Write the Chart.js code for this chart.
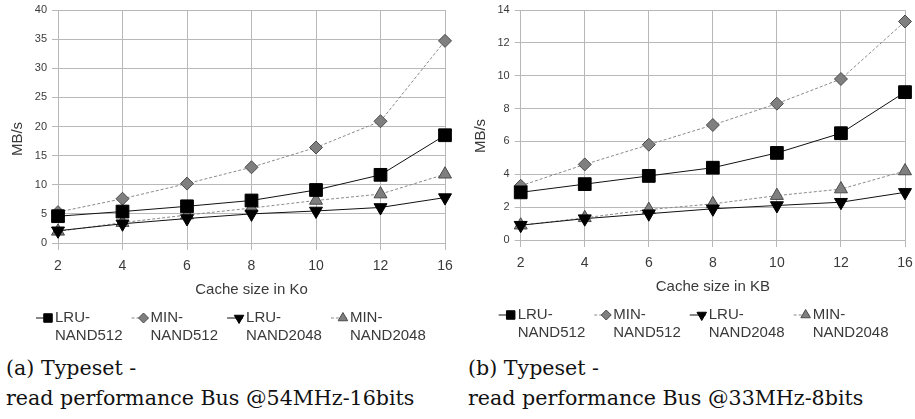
<!DOCTYPE html>
<html>
<head>
<meta charset="utf-8">
<script src="https://cdn.jsdelivr.net/npm/chart.js@4.4.1/dist/chart.umd.min.js"></script>
<style>
  body { margin: 0; background: #fff; width: 915px; height: 419px; overflow: hidden; position: relative; }
  .box { position: absolute; top: 0; width: 457px; height: 350px; }
  #boxA { left: 0; }
  #boxB { left: 458px; }
  .cap { position: absolute; top: 353px; font-family: "DejaVu Serif", serif; font-size: 20.6px; line-height: 30px; color: #111; white-space: nowrap; }
  #capA { left: 6px; }
  #capB { left: 468px; }
</style>
</head>
<body>
<div class="box" id="boxA"><canvas id="chartA"></canvas></div>
<div class="box" id="boxB"><canvas id="chartB"></canvas></div>
<div class="cap" id="capA">(a) Typeset -<br>read performance Bus @54MHz-16bits</div>
<div class="cap" id="capB">(b) Typeset -<br>read performance Bus @33MHz-8bits</div>

<script>
// données
const cacheSizes = ['2', '4', '6', '8', '10', '12', '16'];
const seriesNames = ['LRU-NAND512', 'MIN-NAND512', 'LRU-NAND2048', 'MIN-NAND2048'];

// (a) bus 54MHz 16 bits
const lru512A  = [4.6, 5.4, 6.3, 7.3, 9.1, 11.7, 18.5];
const min512A  = [5.3, 7.6, 10.2, 13.0, 16.4, 20.9, 34.7];
const lru2048A = [2.1, 3.3, 4.2, 5.0, 5.5, 6.1, 7.8];
const min2048A = [2.0, 3.5, 4.8, 6.0, 7.3, 8.4, 11.8];

// (b) bus 33MHz 8 bits
const lru512B  = [2.9, 3.4, 3.9, 4.4, 5.3, 6.5, 9.0];
const min512B  = [3.3, 4.6, 5.8, 7.0, 8.3, 9.8, 13.3];
const lru2048B = [0.9, 1.3, 1.6, 1.9, 2.1, 2.3, 2.9];
const min2048B = [0.9, 1.35, 1.85, 2.2, 2.7, 3.1, 4.2];

// style de chaque série (même ordre que seriesNames)
const seriesStyle = [
    { pointStyle: 'rect',     radius: 9,   rotation: 0,   fill: '#000',    border: '#000',    line: '#111',    dash: [],     legendRadius: 6 },
    { pointStyle: 'rectRot',  radius: 6.5, rotation: 0,   fill: '#7f7f7f', border: '#4a4a4a', line: '#8a8a8a', dash: [3, 2], legendRadius: 5 },
    { pointStyle: 'triangle', radius: 7.5, rotation: 180, fill: '#000',    border: '#000',    line: '#111',    dash: [],     legendRadius: 5.5 },
    { pointStyle: 'triangle', radius: 7.5, rotation: 0,   fill: '#7f7f7f', border: '#4a4a4a', line: '#8a8a8a', dash: [3, 2], legendRadius: 5.5 }
];

const gridColor = '#b8b8b8';
const textColor = '#3a3a3a';
const sansFont = '"Liberation Sans", Arial, sans-serif';

function makeDatasets(values) {
    return values.map((v, i) => {
        const s = seriesStyle[i];
        return {
            label: seriesNames[i],
            data: v,
            borderColor: s.line,
            borderWidth: 1,
            borderDash: s.dash,
            backgroundColor: s.fill,
            pointStyle: s.pointStyle,
            pointRadius: s.radius,
            pointHoverRadius: s.radius,
            pointRotation: s.rotation,
            pointBackgroundColor: s.fill,
            pointBorderColor: s.border,
            pointBorderWidth: 1,
            tension: 0,
            fill: false
        };
    });
}

// titre Y et légende dessinés à la main (texte sur deux lignes)
const extraPlugin = {
    id: 'extra',
    afterDraw(chart) {
        const ctx = chart.ctx;
        const area = chart.chartArea;
        ctx.save();
        // titre de l'axe Y
        ctx.fillStyle = textColor;
        ctx.font = '15px ' + sansFont;
        ctx.textAlign = 'center';
        ctx.textBaseline = 'middle';
        ctx.translate(area.left - 40, area.bottom - 104);
        ctx.rotate(-Math.PI / 2);
        ctx.fillText('MB/s', 0, 0);
        ctx.restore();

        // légende
        ctx.save();
        ctx.font = '15px ' + sansFont;
        ctx.textBaseline = 'middle';
        ctx.textAlign = 'left';
        const row1 = area.bottom + 75;
        const row2 = row1 + 17.5;
        let x = area.left - 22;
        chart.data.datasets.forEach((ds, i) => {
            const s = seriesStyle[i];
            const parts = ds.label.split('-');
            const first = parts[0] + '-';
            const second = parts[1];
            ctx.strokeStyle = s.line;
            ctx.lineWidth = 1;
            ctx.setLineDash(s.dash);
            ctx.beginPath();
            ctx.moveTo(x, row1);
            ctx.lineTo(x + 16, row1);
            ctx.stroke();
            ctx.setLineDash([]);
            ctx.fillStyle = s.fill;
            ctx.strokeStyle = s.border;
            Chart.helpers.drawPoint(ctx, { pointStyle: s.pointStyle, radius: s.legendRadius, rotation: s.rotation, borderWidth: 1 }, x + 12, row1);
            ctx.fillStyle = textColor;
            const tx = x + 19;
            ctx.fillText(first, tx, row1);
            ctx.fillText(second, tx, row2);
            const w = Math.max(ctx.measureText(first).width, ctx.measureText(second).width);
            x = tx + w + 9;
        });
        ctx.restore();
    }
};

function makeChart(id, datasets, xTitle, yMax, yStep, leftW, padTop, padRight, padBottom) {
    const ctx = document.getElementById(id).getContext('2d');
    return new Chart(ctx, {
        type: 'line',
        data: { labels: cacheSizes, datasets: datasets },
        options: {
            responsive: true,
            maintainAspectRatio: false,
            animation: false,
            layout: { padding: { top: padTop, right: padRight, bottom: padBottom, left: 0 } },
            plugins: {
                legend: { display: false },
                tooltip: { enabled: false }
            },
            scales: {
                x: {
                    type: 'category',
                    offset: false,
                    grid: { color: gridColor, tickLength: 7, lineWidth: 1 },
                    border: { color: gridColor },
                    ticks: { color: textColor, font: { size: 14, family: sansFont }, padding: 8, maxRotation: 0, autoSkip: false },
                    title: { display: true, text: xTitle, color: textColor, font: { size: 15, family: sansFont }, padding: { top: 7, bottom: 4 } },
                    afterFit(s) { s.paddingRight = 0; s.paddingLeft = 0; s.height = 60; }
                },
                y: {
                    min: 0,
                    max: yMax,
                    grid: { color: gridColor, tickLength: 6, lineWidth: 1 },
                    border: { color: gridColor },
                    ticks: { stepSize: yStep, color: textColor, font: { size: 11, family: sansFont }, padding: 5 },
                    afterFit(s) { s.width = leftW; s.paddingTop = 0; s.paddingBottom = 0; }
                }
            }
        },
        plugins: [extraPlugin]
    });
}

makeChart('chartA', makeDatasets([lru512A, min512A, lru2048A, min2048A]), 'Cache size in Ko', 40, 5, 58, 10, 12, 47);
makeChart('chartB', makeDatasets([lru512B, min512B, lru2048B, min2048B]), 'Cache size in KB', 14, 2, 62.7, 9, 6, 50);
</script>
</body>
</html>
